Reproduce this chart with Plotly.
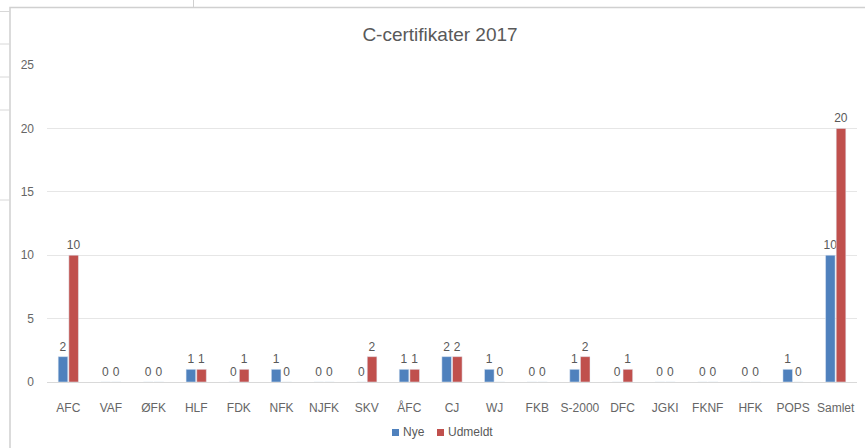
import plotly.graph_objects as go

categories = ["AFC", "VAF", "ØFK", "HLF", "FDK", "NFK", "NJFK", "SKV", "ÅFC", "CJ",
              "WJ", "FKB", "S-2000", "DFC", "JGKI", "FKNF", "HFK", "POPS", "Samlet"]
nye = [2, 0, 0, 1, 0, 1, 0, 0, 1, 2, 1, 0, 1, 0, 0, 0, 0, 1, 10]
udmeldt = [10, 0, 0, 1, 1, 0, 0, 2, 1, 2, 0, 0, 2, 1, 0, 0, 0, 0, 20]
series_names = ["Nye", "Udmeldt"]
series_colors = ["#4F81BD", "#C0504D"]
y_ticks = [0, 5, 10, 15, 20, 25]
title_text = "C-certifikater 2017"

FONT = "Liberation Sans, Arial, sans-serif"
W, H = 865, 448
L, R, T, B = 47, 8, 65, 66
pw, ph = W - L - R, H - T - B

def px(x):
    return (x - L) / pw

def py(y):
    return (H - B - y) / ph

fig = go.Figure()
for name, vals, col in zip(series_names, [nye, udmeldt], series_colors):
    fig.add_trace(go.Bar(x=categories, y=vals, name=name, marker_color=col,
                         text=vals, textposition="outside", cliponaxis=False,
                         textfont=dict(size=12, color="#595959", family=FONT),
                         showlegend=False))

shapes = []
annotations = []
# chart frame
shapes.append(dict(type="rect", xref="paper", yref="paper",
                   x0=px(10), x1=px(W + 20), y0=py(H + 20), y1=py(7.5),
                   line=dict(color="#d0d0d0", width=1.5), fillcolor="rgba(0,0,0,0)", layer="below"))
# spreadsheet lines on the left
for yy in [11.5, 44, 77, 110, 200]:
    shapes.append(dict(type="line", xref="paper", yref="paper",
                       x0=px(0), x1=px(10), y0=py(yy), y1=py(yy),
                       line=dict(color="#d8d8d8", width=1)))
shapes.append(dict(type="line", xref="paper", yref="paper",
                   x0=px(193.5), x1=px(193.5), y0=py(0), y1=py(7.5),
                   line=dict(color="#d0d0d0", width=1)))

# legend (compact, Excel-like)
legend_x = [392, 437]
for lx, name, col in zip(legend_x, series_names, series_colors):
    shapes.append(dict(type="rect", xref="paper", yref="paper",
                       x0=px(lx), x1=px(lx + 7), y0=py(436), y1=py(429),
                       line=dict(width=0), fillcolor=col))
    annotations.append(dict(text=name, xref="paper", yref="paper",
                            x=px(lx + 9), y=py(432.5), xanchor="left", yanchor="middle",
                            showarrow=False, font=dict(size=12, color="#595959", family=FONT)))

fig.update_layout(
    width=W, height=H,
    margin=dict(l=L, r=R, t=T, b=B, autoexpand=False),
    paper_bgcolor="white", plot_bgcolor="white",
    barmode="group", bargap=0.5, bargroupgap=0.1,
    uniformtext=dict(minsize=12, mode="show"),
    font=dict(family=FONT, color="#595959", size=12),
    title=dict(text=title_text, x=440 / W, xanchor="center", xref="container",
               y=1 - 34 / H, yanchor="middle", yref="container",
               font=dict(size=19, color="#595959", family=FONT)),
    xaxis=dict(showgrid=False, showline=True, linecolor="#d9d9d9", linewidth=1,
               ticks="", tickfont=dict(size=12, color="#666666"), ticklabelstandoff=15),
    yaxis=dict(range=[0, 25], tickvals=y_ticks, showgrid=True, gridcolor="#e6e6e6",
               zeroline=False, showline=False, ticks="", ticklabelstandoff=12,
               tickfont=dict(size=12, color="#666666")),
    shapes=shapes,
    annotations=annotations,
    showlegend=False,
)

fig.write_html("out.html", config={"displayModeBar": False},
               post_script="document.body.style.margin='0';document.body.style.overflow='hidden';")
